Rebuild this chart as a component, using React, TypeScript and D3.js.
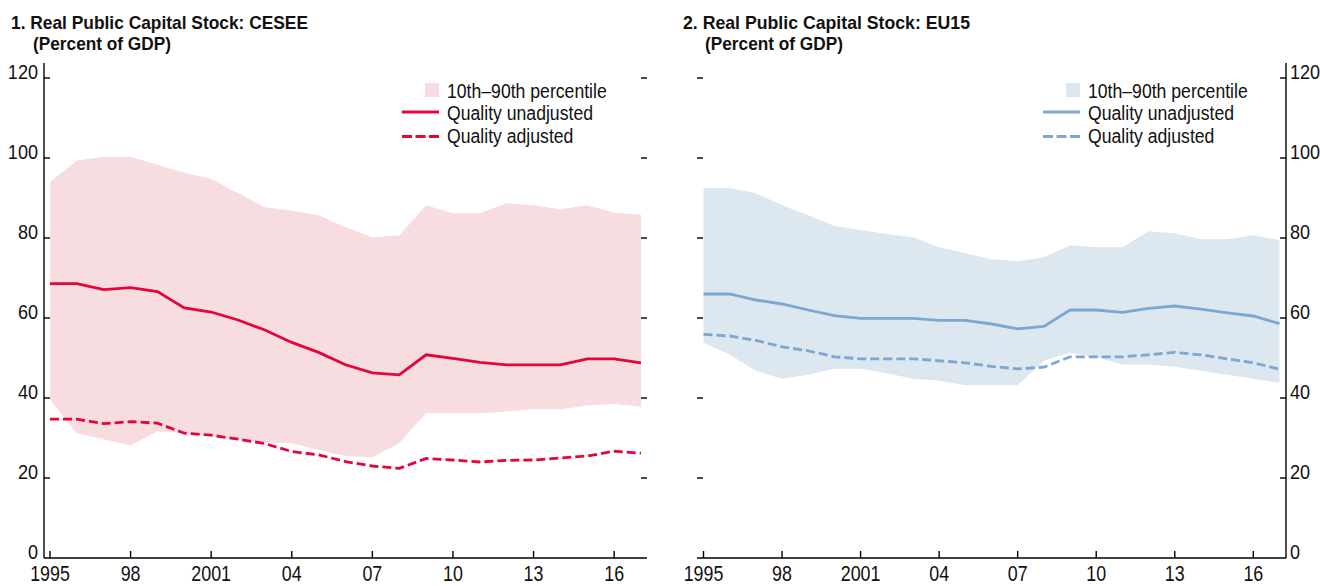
import { useEffect, useRef } from "react";
import * as d3 from "d3";

// x categories and tick labels
const years = [1995, 1996, 1997, 1998, 1999, 2000, 2001, 2002, 2003, 2004, 2005, 2006, 2007, 2008, 2009, 2010, 2011, 2012, 2013, 2014, 2015, 2016, 2017];
const xTickYears = [1995, 1998, 2001, 2004, 2007, 2010, 2013, 2016];
const xTickLabels = ["1995", "98", "2001", "04", "07", "10", "13", "16"];
const yTicks = [0, 20, 40, 60, 80, 100, 120];

// Panel 1: CESEE
const ceseeHigh = [94, 99.4, 100.3, 100.3, 98.3, 96.3, 94.8, 91.2, 87.7, 86.8, 85.7, 82.7, 80.2, 80.6, 88.2, 86.2, 86.2, 88.7, 88.2, 87.2, 88.2, 86.3, 85.8];
const ceseeLow = [39.5, 31.2, 29.7, 28.2, 31.6, 31.3, 30.4, 29.6, 28.8, 28.7, 27, 25.5, 25.2, 28.7, 36.2, 36.2, 36.2, 36.6, 37.2, 37.2, 38.1, 38.5, 37.8];
const ceseeUnadj = [68.6, 68.6, 67.1, 67.6, 66.6, 62.5, 61.5, 59.5, 57, 53.9, 51.4, 48.3, 46.3, 45.8, 50.8, 49.9, 48.9, 48.3, 48.3, 48.3, 49.8, 49.8, 48.8];
const ceseeAdj = [34.7, 34.7, 33.6, 34.1, 33.7, 31.2, 30.7, 29.7, 28.6, 26.6, 25.8, 24.1, 23, 22.4, 24.9, 24.5, 24, 24.4, 24.5, 25, 25.5, 26.7, 26.2];

// Panel 2: EU15
const euHigh = [92.5, 92.5, 91.2, 88.2, 85.7, 83, 82, 81, 80.2, 77.7, 76.2, 74.7, 74.2, 75.2, 78.2, 77.7, 77.7, 81.7, 81.2, 79.7, 79.7, 80.7, 79.5];
const euLow = [53.9, 50.8, 46.8, 44.8, 45.8, 47.3, 47.3, 46.2, 44.8, 44.3, 43.2, 43.2, 43.2, 49.3, 51.3, 50.2, 48.4, 48.4, 47.8, 46.8, 45.8, 44.8, 43.8];
const euUnadj = [66, 66, 64.5, 63.5, 62, 60.6, 59.9, 59.9, 59.9, 59.4, 59.4, 58.5, 57.3, 57.9, 62, 62, 61.4, 62.4, 63, 62.2, 61.3, 60.5, 58.6];
const euAdj = [55.9, 55.5, 54.4, 52.8, 51.8, 50.3, 49.8, 49.8, 49.8, 49.3, 48.8, 47.9, 47.3, 47.7, 50.3, 50.3, 50.3, 50.8, 51.4, 50.8, 49.8, 48.8, 47.2];

const legendLabels = ["10th\u201390th percentile", "Quality unadjusted", "Quality adjusted"];

const FONT = "'Liberation Sans', Arial, sans-serif";

const panels = [
  {
    title: "1. Real Public Capital Stock: CESEE",
    titleW: 297,
    sub: "(Percent of GDP)",
    subW: 138,
    titleX: 11,
    x0: 44, x1: 647, first: 50, last: 641,
    axisSide: "left",
    high: ceseeHigh, low: ceseeLow, unadj: ceseeUnadj, adj: ceseeAdj,
    band: "#f7dde0", line: "#e4063a",
    legX: 439,
  },
  {
    title: "2. Real Public Capital Stock: EU15",
    titleW: 287,
    sub: "(Percent of GDP)",
    subW: 138,
    titleX: 683,
    x0: 697, x1: 1286, first: 703.5, last: 1279.5,
    axisSide: "right",
    high: euHigh, low: euLow, unadj: euUnadj, adj: euAdj,
    band: "#dde7f0", line: "#7ba7d2",
    legX: 1080,
  },
];

const App = () => {
  const ref = useRef<SVGSVGElement>(null);

  useEffect(() => {
    const svg = d3.select(ref.current);
    svg.selectAll("*").remove();

    const y = d3.scaleLinear().domain([0, 120]).range([558, 78]);

    // condensed-looking label: squeeze horizontally
    const label = (g: any, x: number, yy: number, s: string, size: number, anchor: string, sx = 0.86) =>
      g.append("text")
        .attr("transform", `translate(${x},${yy}) scale(${sx},1)`)
        .attr("text-anchor", anchor)
        .attr("font-size", size + "px")
        .text(s);

    panels.forEach((p) => {
      const g = svg.append("g").attr("font-family", FONT).attr("fill", "#111");
      const x = d3.scaleLinear().domain([1995, 2017]).range([p.first, p.last]);

      // titles
      g.append("text")
        .attr("x", p.titleX)
        .attr("y", 29)
        .attr("font-size", "18.5px")
        .attr("font-weight", "bold")
        .attr("textLength", p.titleW)
        .attr("lengthAdjust", "spacingAndGlyphs")
        .text(p.title);
      g.append("text")
        .attr("x", p.titleX + 22)
        .attr("y", 50)
        .attr("font-size", "18.5px")
        .attr("font-weight", "bold")
        .attr("textLength", p.subW)
        .attr("lengthAdjust", "spacingAndGlyphs")
        .text(p.sub);

      // band
      const area = d3
        .area<number>()
        .x((d, i) => x(years[i]))
        .y0((d, i) => y(p.low[i]))
        .y1((d) => y(d));
      g.append("path").attr("d", area(p.high)).attr("fill", p.band);

      const line = d3
        .line<number>()
        .x((d, i) => x(years[i]))
        .y((d) => y(d));
      g.append("path")
        .attr("d", line(p.unadj))
        .attr("fill", "none")
        .attr("stroke", p.line)
        .attr("stroke-width", 2.8);
      g.append("path")
        .attr("d", line(p.adj))
        .attr("fill", "none")
        .attr("stroke", p.line)
        .attr("stroke-width", 2.8)
        .attr("stroke-dasharray", "9,4");

      // bottom axis
      g.append("line")
        .attr("x1", p.x0)
        .attr("x2", p.x1)
        .attr("y1", y(0))
        .attr("y2", y(0))
        .attr("stroke", "#000")
        .attr("stroke-width", 1.4);
      xTickYears.forEach((yr, i) => {
        g.append("line")
          .attr("x1", x(yr))
          .attr("x2", x(yr))
          .attr("y1", y(0))
          .attr("y2", y(0) - 7)
          .attr("stroke", "#000")
          .attr("stroke-width", 1.4);
        label(g, x(yr), 581, xTickLabels[i], 21.5, "middle", 0.83);
      });

      // y axis
      const axX = p.axisSide === "left" ? p.x0 : p.x1;
      const dir = p.axisSide === "left" ? 1 : -1;
      const oppX = p.axisSide === "left" ? p.x1 : p.x0;
      g.append("line")
        .attr("x1", axX)
        .attr("x2", axX)
        .attr("y1", 63)
        .attr("y2", y(0))
        .attr("stroke", "#000")
        .attr("stroke-width", 1.4);
      yTicks.forEach((t) => {
        if (t > 0) {
          g.append("line")
            .attr("x1", axX)
            .attr("x2", axX + dir * 6)
            .attr("y1", y(t))
            .attr("y2", y(t))
            .attr("stroke", "#000")
            .attr("stroke-width", 1.4);
          g.append("line")
            .attr("x1", oppX)
            .attr("x2", oppX - dir * 6)
            .attr("y1", y(t))
            .attr("y2", y(t))
            .attr("stroke", "#000")
            .attr("stroke-width", 1.4);
        }
        label(
          g,
          p.axisSide === "left" ? axX - 6 : axX + 4,
          y(t) + 1,
          String(t),
          21,
          p.axisSide === "left" ? "end" : "start",
          0.86
        );
      });

      // legend
      const lg = g.append("g");
      lg.append("rect")
        .attr("x", p.legX - 14)
        .attr("y", 83)
        .attr("width", 14)
        .attr("height", 14)
        .attr("fill", p.band);
      lg.append("line")
        .attr("x1", p.legX - 37)
        .attr("x2", p.legX)
        .attr("y1", 112)
        .attr("y2", 112)
        .attr("stroke", p.line)
        .attr("stroke-width", 2.8);
      lg.append("line")
        .attr("x1", p.legX - 37)
        .attr("x2", p.legX)
        .attr("y1", 136.5)
        .attr("y2", 136.5)
        .attr("stroke", p.line)
        .attr("stroke-width", 2.8)
        .attr("stroke-dasharray", "10,3.5");
      legendLabels.forEach((l, i) => {
        label(lg, p.legX + 8, 97.5 + i * 22.5, l, 21, "start", 0.84);
      });
    });
  }, []);

  return (
    <div>
      <svg ref={ref} width={1320} height={586} style={{ position: "absolute", left: 0, top: 0 }} />
    </div>
  );
};

export default App;
